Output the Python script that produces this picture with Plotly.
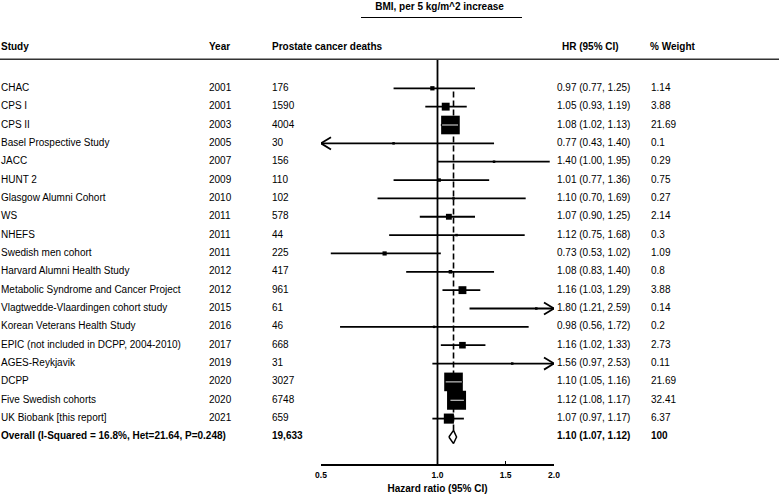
import math
import plotly.graph_objects as go

# ---------------- data ----------------
studies = ["CHAC", "CPS I", "CPS II", "Basel Prospective Study", "JACC", "HUNT 2",
           "Glasgow Alumni Cohort", "WS", "NHEFS", "Swedish men cohort",
           "Harvard Alumni Health Study", "Metabolic Syndrome and Cancer Project",
           "Vlagtwedde-Vlaardingen cohort study", "Korean Veterans Health Study",
           "EPIC (not included in DCPP, 2004-2010)", "AGES-Reykjavik", "DCPP",
           "Five Swedish cohorts", "UK Biobank [this report]"]
years = [2001, 2001, 2003, 2005, 2007, 2009, 2010, 2011, 2011, 2011, 2012, 2012,
         2015, 2016, 2017, 2019, 2020, 2020, 2021]
deaths = [176, 1590, 4004, 30, 156, 110, 102, 578, 44, 225, 417, 961, 61, 46, 668,
          31, 3027, 6748, 659]
hr = [0.97, 1.05, 1.08, 0.77, 1.40, 1.01, 1.10, 1.07, 1.12, 0.73, 1.08, 1.16, 1.80,
      0.98, 1.16, 1.56, 1.10, 1.12, 1.07]
ci_lo = [0.77, 0.93, 1.02, 0.43, 1.00, 0.77, 0.70, 0.90, 0.75, 0.53, 0.83, 1.03, 1.21,
         0.56, 1.02, 0.97, 1.05, 1.08, 0.97]
ci_hi = [1.25, 1.19, 1.13, 1.40, 1.95, 1.36, 1.69, 1.25, 1.68, 1.02, 1.40, 1.29, 2.59,
         1.72, 1.33, 2.53, 1.16, 1.17, 1.17]
weights = [1.14, 3.88, 21.69, 0.1, 0.29, 0.75, 0.27, 2.14, 0.3, 1.09, 0.8, 3.88, 0.14,
           0.2, 2.73, 0.11, 21.69, 32.41, 6.37]

overall_label = "Overall (I-Squared = 16.8%, Het=21.64, P=0.248)"
overall_deaths = "19,633"
overall_hr, overall_lo, overall_hi = 1.10, 1.07, 1.12
overall_weight = "100"

col_headers = ["Study", "Year", "Prostate cancer deaths", "HR (95% CI)", "% Weight"]
panel_title = "BMI, per 5 kg/m^2 increase"
axis_title = "Hazard ratio (95% CI)"
tick_values = [0.5, 1.0, 1.5, 2.0]

# ---------------- layout constants ----------------
W, H = 779, 494
X_MIN, X_MAX = 0.5, 2.0
PX_MIN, PX_MAX = 321, 554
ROW0_PX, ROW_STEP = 88.3, 18.35
AXIS_PX = 464.3
FONT = "Liberation Sans, Arial, Helvetica, sans-serif"
PX_PER_DECADE = (PX_MAX - PX_MIN) / (math.log10(X_MAX) - math.log10(X_MIN))

n = len(studies)
rows = list(range(n))
overall_row = n


def py_to_row(py):
    return (py - ROW0_PX) / ROW_STEP


def px_to_log_factor(px):
    return 10 ** (px / PX_PER_DECADE)


fig = go.Figure()

# ---------- CI lines ----------
lx, ly = [], []
for r, l, u in zip(rows, ci_lo, ci_hi):
    lx += [max(l, X_MIN), min(u, X_MAX), None]
    ly += [r, r, None]
fig.add_trace(go.Scatter(x=lx, y=ly, mode="lines", line=dict(color="black", width=1.8),
                         xaxis="x", yaxis="y", hoverinfo="skip"))

# ---------- arrow heads for truncated CIs ----------
f = px_to_log_factor(10)
ah = 0.33
ax_, ay_ = [], []
for r, l, u in zip(rows, ci_lo, ci_hi):
    if l < X_MIN:
        ax_ += [X_MIN * f, X_MIN, X_MIN * f, None]
        ay_ += [r - ah, r, r + ah, None]
    if u > X_MAX:
        ax_ += [X_MAX / f, X_MAX, X_MAX / f, None]
        ay_ += [r - ah, r, r + ah, None]
fig.add_trace(go.Scatter(x=ax_, y=ay_, mode="lines", line=dict(color="black", width=1.8),
                         xaxis="x", yaxis="y", hoverinfo="skip"))

# ---------- weight boxes ----------
sizes = [min(19.0, max(2.5, 4.0 * math.sqrt(w))) for w in weights]
fig.add_trace(go.Scatter(x=hr, y=rows, mode="markers",
                         marker=dict(symbol="square", size=sizes, color="black",
                                     opacity=1, line=dict(width=0)),
                         xaxis="x", yaxis="y", cliponaxis=False, hoverinfo="skip"))

# white CI line visible inside the large boxes
wx, wy = [], []
for r, h, l, u, s in zip(rows, hr, ci_lo, ci_hi, sizes):
    if s >= 15:
        half = px_to_log_factor(s / 2 - 1)
        wx += [max(l, h / half), min(u, h * half), None]
        wy += [r, r, None]
fig.add_trace(go.Scatter(x=wx, y=wy, mode="lines", line=dict(color="#e8e8e8", width=1),
                         xaxis="x", yaxis="y", hoverinfo="skip"))

# ---------- overall diamond ----------
dh = 0.36
fig.add_trace(go.Scatter(
    x=[overall_lo, overall_hr, overall_hi, overall_hr, overall_lo],
    y=[overall_row, overall_row - dh, overall_row, overall_row + dh, overall_row],
    mode="lines", fill="toself", fillcolor="white",
    line=dict(color="black", width=1.5), xaxis="x", yaxis="y", hoverinfo="skip"))

# ---------- text columns ----------
all_rows = rows + [overall_row]
col_x = {"study": 1, "year": 209, "deaths": 272, "hr": 557, "weight": 651}
study_txt = studies + ["<b>" + overall_label + "</b>"]
year_txt = [str(y) for y in years] + [""]
death_txt = [str(d) for d in deaths] + ["<b>" + overall_deaths + "</b>"]
hr_txt = [f"{h:.2f} ({l:.2f}, {u:.2f})" for h, l, u in zip(hr, ci_lo, ci_hi)] + \
         [f"<b>{overall_hr:.2f} ({overall_lo:.2f}, {overall_hi:.2f})</b>"]
w_txt = [str(w) for w in weights] + ["<b>" + overall_weight + "</b>"]

for key, txt in [("study", study_txt), ("year", year_txt), ("deaths", death_txt),
                 ("hr", hr_txt), ("weight", w_txt)]:
    fig.add_trace(go.Scatter(x=[col_x[key]] * len(all_rows), y=all_rows, text=txt,
                             mode="text", textposition="middle right",
                             textfont=dict(family=FONT, size=10, color="black"),
                             xaxis="x2", yaxis="y", cliponaxis=False, hoverinfo="skip"))

# headers
head_x = [1, 209, 272, 562, 650]
head_row = py_to_row(47.7)
fig.add_trace(go.Scatter(x=head_x, y=[head_row] * len(head_x),
                         text=["<b>" + t + "</b>" for t in col_headers],
                         mode="text", textposition="middle right",
                         textfont=dict(family=FONT, size=10, color="black"),
                         xaxis="x2", yaxis="y", cliponaxis=False, hoverinfo="skip"))
fig.add_trace(go.Scatter(x=[439.5], y=[py_to_row(7.5)], text=["<b>" + panel_title + "</b>"],
                         mode="text", textposition="middle center",
                         textfont=dict(family=FONT, size=10, color="black"),
                         xaxis="x2", yaxis="y", cliponaxis=False, hoverinfo="skip"))

# ---------- reference lines ----------
shapes = [
    # header rule
    dict(type="line", xref="paper", yref="paper", x0=0, x1=1,
         y0=1 - 59.3 / H, y1=1 - 59.3 / H, line=dict(color="#333333", width=1.6)),
    # panel title underline
    dict(type="line", xref="paper", yref="paper", x0=361 / W, x1=522 / W,
         y0=1 - 17.5 / H, y1=1 - 17.5 / H, line=dict(color="black", width=1.2)),
    # null line
    dict(type="line", xref="x", yref="paper", x0=1, x1=1,
         y0=1 - 59.3 / H, y1=1 - AXIS_PX / H, line=dict(color="black", width=1.8),
         layer="below"),
    # overall dashed line
    dict(type="line", xref="x", yref="y", x0=overall_hr, x1=overall_hr,
         y0=py_to_row(91.5), y1=overall_row - dh, line=dict(color="black", width=1.6,
                                                             dash="6px,3px"),
         layer="below"),
]

y_range = [py_to_row(H), py_to_row(0)]

fig.update_layout(
    width=W, height=H, margin=dict(l=0, r=0, t=0, b=0, pad=0, autoexpand=False),
    paper_bgcolor="white", plot_bgcolor="rgba(0,0,0,0)",
    showlegend=False, shapes=shapes, hovermode=False,
    font=dict(family=FONT, color="black"),
    xaxis=dict(type="log", range=[math.log10(X_MIN), math.log10(X_MAX)],
               domain=[PX_MIN / W, PX_MAX / W], anchor="free", position=1 - AXIS_PX / H,
               automargin=False,
               showline=True, linecolor="black", linewidth=1.8, ticks="inside",
               ticklen=3, tickwidth=1.5, tickcolor="black",
               tickvals=tick_values, ticktext=[f"<b>{v:.1f}</b>" for v in tick_values],
               tickfont=dict(family=FONT, size=8.5, color="black"),
               ticklabelstandoff=2,
               showgrid=False, zeroline=False,
               title=dict(text="<b>" + axis_title + "</b>",
                          font=dict(family=FONT, size=10, color="black"))),
    xaxis2=dict(range=[0, W], domain=[0, 1], anchor="y", visible=False, showgrid=False,
                zeroline=False, automargin=False),
    yaxis=dict(range=y_range, domain=[0, 1], visible=False, showgrid=False, zeroline=False,
               anchor="x2", automargin=False),
)

fig.write_html("out.html", config={"displayModeBar": False, "staticPlot": True},
               post_script="document.body.style.margin='0';")
